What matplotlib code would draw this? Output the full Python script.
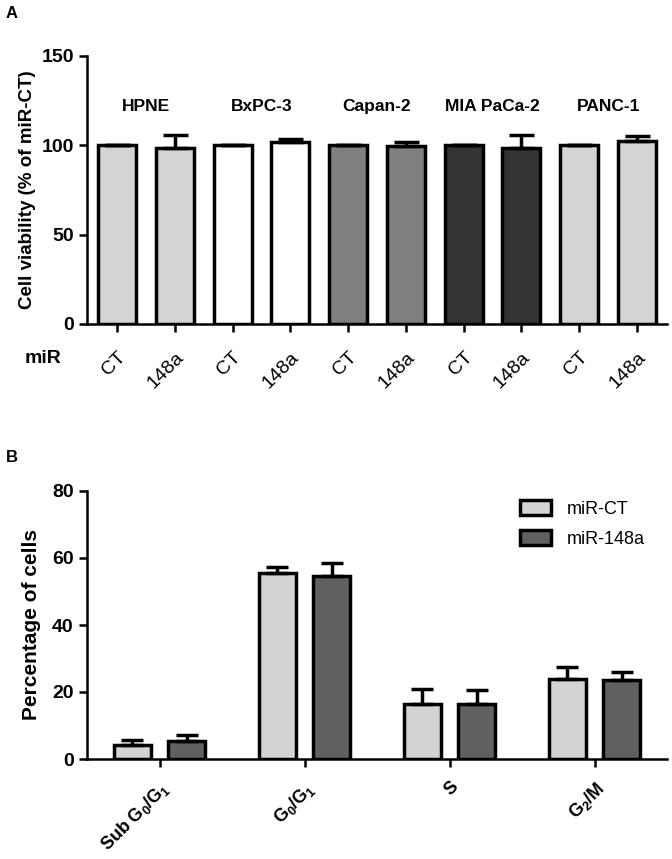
import matplotlib.pyplot as plt
import numpy as np

plt.rcParams['font.family'] = ['Liberation Sans', 'DejaVu Sans']
plt.rcParams['mathtext.fontset'] = 'custom'
plt.rcParams['mathtext.rm'] = 'Liberation Sans:bold'
plt.rcParams['mathtext.it'] = 'Liberation Sans:bold:italic'
plt.rcParams['mathtext.bf'] = 'Liberation Sans:bold'
plt.rcParams['mathtext.default'] = 'bf'

# Panel A: viability
cell_lines = ["HPNE", "BxPC-3", "Capan-2", "MIA PaCa-2", "PANC-1"]
mir_labels = ["CT", "148a"] * 5
viability = [100, 98.7, 100, 101.7, 100, 99.8, 100, 98.7, 100, 102.6]
viability_err = [0, 7.2, 0, 2.0, 0, 2.0, 0, 7.0, 0, 2.4]
line_colors = ["#d4d4d4", "#ffffff", "#808080", "#333333", "#d4d4d4"]

# Panel B: cell cycle
phases = ["Sub G$_0$/G$_1$", "G$_0$/G$_1$", "S", "G$_2$/M"]
ct_vals = [4.1, 55.5, 16.5, 23.9]
ct_err = [1.7, 1.8, 4.4, 3.5]
mir148_vals = [5.5, 54.5, 16.5, 23.7]
mir148_err = [1.7, 3.9, 4.1, 2.2]

W, H = 672, 859
fig = plt.figure(figsize=(W / 100, H / 100), dpi=100)


def style_axes(a):
    a.spines["top"].set_visible(False)
    a.spines["right"].set_visible(False)
    a.spines["left"].set_linewidth(1.8)
    a.spines["bottom"].set_linewidth(1.8)
    a.tick_params(width=1.8, length=6)
    for lbl in a.get_yticklabels():
        lbl.set_fontweight("bold")
        lbl.set_fontsize(14)


# ---- A ----
ax = fig.add_axes([87 / W, 1 - 324 / H, (667 - 87) / W, (324 - 56) / H])
x = np.arange(len(viability))
cols = [c for c in line_colors for _ in range(2)]
ax.bar(x, viability, width=0.66, color=cols, edgecolor="black", linewidth=2.5,
       yerr=[[0] * len(viability), viability_err],
       error_kw=dict(ecolor="black", elinewidth=2.5, capsize=9, capthick=2.5),
       zorder=2)
ax.set_xlim(-0.52, 9.52)
ax.set_ylim(0, 150)
ax.set_yticks([0, 50, 100, 150])
ax.set_xticks(x)
ax.set_xticklabels(mir_labels, rotation=45, ha="right", rotation_mode="anchor",
                   fontsize=14)
ax.tick_params(axis="x", pad=12)
ax.set_ylabel("Cell viability (% of miR-CT)", fontsize=13.5, fontweight="bold",
              labelpad=4)
style_axes(ax)
for i, name in enumerate(cell_lines):
    ax.text(2 * i + 0.5, 122, name, ha="center", va="center", fontsize=12.5,
            fontweight="bold")
fig.text(25 / W, 1 - 358 / H, "miR", fontsize=14, fontweight="bold",
         ha="left", va="center")
fig.text(6 / W, 1 - 14 / H, "A", fontsize=12, fontweight="bold",
         va="center")

# ---- B ----
bx = fig.add_axes([87 / W, 1 - 759 / H, (667 - 87) / W, (759 - 491) / H])
xb = np.arange(len(phases))
off = 0.1875
w = 0.255
ekw = dict(ecolor="black", elinewidth=2.5, capsize=8, capthick=2.5)
bx.bar(xb - off, ct_vals, width=w, color="#d3d3d3", edgecolor="black",
       linewidth=2.5, yerr=[[0] * 4, ct_err], error_kw=ekw, label="miR-CT")
bx.bar(xb + off, mir148_vals, width=w, color="#606060", edgecolor="black",
       linewidth=2.5, yerr=[[0] * 4, mir148_err], error_kw=ekw,
       label="miR-148a")
bx.set_xlim(-0.5, 3.5)
bx.set_ylim(0, 80)
bx.set_yticks([0, 20, 40, 60, 80])
bx.set_xticks(xb)
bx.set_xticklabels(phases, rotation=45, ha="right", rotation_mode="anchor",
                   fontsize=13, fontweight="bold")
bx.tick_params(axis="x", pad=8)
bx.set_ylabel("Percentage of cells", fontsize=15, fontweight="bold", labelpad=8)
style_axes(bx)
bx.legend(loc="upper left", bbox_to_anchor=(520 / W, 1 - 500 / H),
          bbox_transform=fig.transFigure, frameon=False, fontsize=13,
          handlelength=1.7, handleheight=0.9, labelspacing=0.7,
          handletextpad=0.9, borderpad=0, borderaxespad=0)
fig.text(6 / W, 1 - 457 / H, "B", fontsize=12, fontweight="bold",
         va="center")

fig.savefig("out.png", dpi=100)
